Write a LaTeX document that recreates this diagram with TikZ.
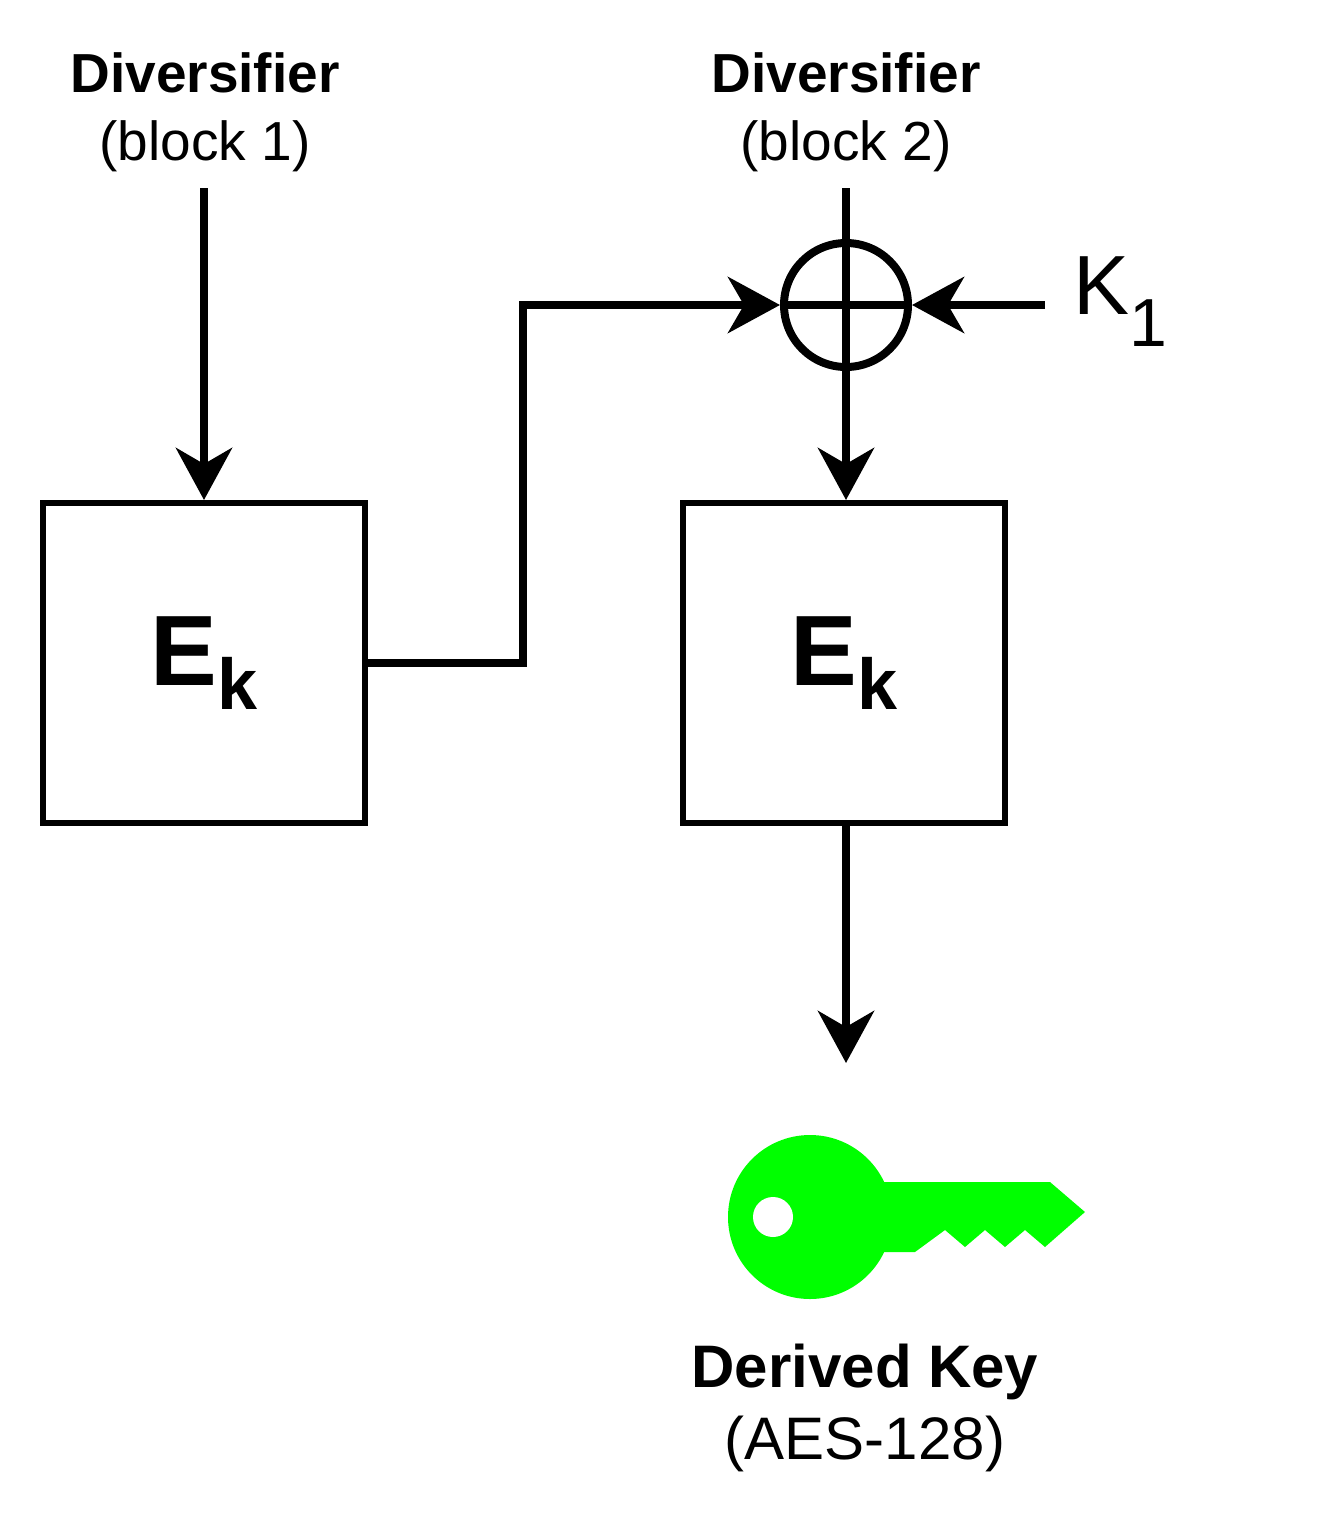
\documentclass[tikz,border=0pt]{standalone}
\usepackage{fontspec}
\setmainfont{Liberation Sans}
\usetikzlibrary{arrows.meta}
\begin{document}
\begin{tikzpicture}[x=0.5pt,y=-0.5pt,
  ln/.style={line width=4pt},
  arr/.style={ln,-{Stealth[length=26pt,width=28pt,inset=8pt]}},
  box/.style={draw,line width=3pt,minimum width=161pt,minimum height=160pt,inner sep=0pt},
  lab/.style={font=\fontsize{27.5}{34}\selectfont,align=center}]
\useasboundingbox (0,0) rectangle (1324,1516);
\node[box] (e1) at (204,663) {\fontsize{50}{50}\selectfont\bfseries E\raisebox{-12pt}{\fontsize{36}{36}\selectfont k}};
\node[box] (e2) at (844,663) {\fontsize{50}{50}\selectfont\bfseries E\raisebox{-12pt}{\fontsize{36}{36}\selectfont k}};
\node[draw,circle,line width=4pt,minimum size=62pt,inner sep=0pt] (x) at (846,305) {};
\node[lab] (d1) at (205,112) {\textbf{Diversifier}\\(block 1)};
\node[lab] (d2) at (846,112) {\textbf{Diversifier}\\(block 2)};
\coordinate (t1) at (204,188);
\coordinate (t2) at (846,188);
\coordinate (kk) at (1045,305);
\coordinate (o) at (846,1063);
\node[font=\fontsize{42}{42}\selectfont,anchor=west] (k1) at (1066,302) {K\raisebox{-16pt}{\fontsize{34}{34}\selectfont 1}};
\draw[arr] (t1) -- (e1.north);
\draw[ln] (t2) -- (x.center);
\draw[ln] (x.west) -- (x.east);
\draw[arr] (846,305) -- (846,500);
\draw[arr] (e1.east) -| (523,305) -- (x.west);
\draw[arr] (kk) -- (x.east);
\draw[arr] (846,824) -- (o);
\fill[green] (810,1217) circle (41pt);
\fill[green] (860,1182) -- (1050,1182) -- (1085,1212) -- (1045,1247) -- (1025,1230) -- (1005,1247) -- (985,1230) -- (965,1247) -- (945,1230) -- (915,1252) -- (860,1252) -- cycle;
\fill[white] (773,1217) circle (10pt);
\node[lab,font=\fontsize{30}{36}\selectfont] (dk) at (865,1408) {\textbf{Derived Key}\\(AES-128)};
\end{tikzpicture}
\end{document}
